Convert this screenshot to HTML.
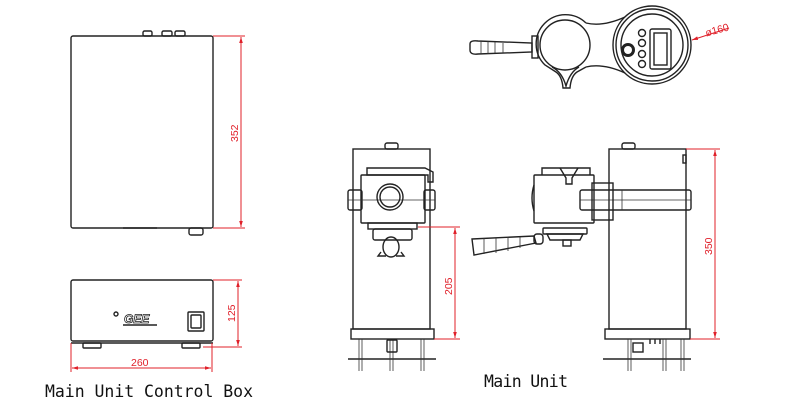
<!DOCTYPE html>
<html><head><meta charset="utf-8"><style>
html,body{margin:0;padding:0;background:#fff;width:800px;height:408px;overflow:hidden}
svg{display:block}
.k{fill:none;stroke:#222;stroke-width:1.4}
.t{fill:none;stroke:#333;stroke-width:0.8}
.r{fill:none;stroke:#e0202a;stroke-width:1}
.rt{fill:#e0202a;font-family:"Liberation Sans",sans-serif;font-size:10.5px}
.lb{fill:#111;font-family:"DejaVu Sans Mono","Liberation Mono",monospace;font-size:16.5px}
</style></head><body>
<svg width="800" height="408" viewBox="0 0 800 408">
<defs>
<marker id="a" viewBox="0 0 10 10" refX="10" refY="5" markerWidth="6" markerHeight="6" orient="auto-start-reverse"><path d="M0,2 L10,5 L0,8 z" fill="#e0202a"/></marker>
</defs>
<!-- Control box top -->
<rect class="k" x="71" y="36" width="142" height="192" rx="2"/>
<rect class="k" x="143" y="31" width="9" height="5" rx="1.5"/>
<rect class="k" x="162" y="31" width="10" height="5" rx="1.5"/>
<rect class="k" x="175" y="31" width="10" height="5" rx="1.5"/>
<rect class="k" x="189" y="228" width="14" height="7" rx="2"/>
<line class="k" x1="123" y1="228" x2="157" y2="228" stroke-width="2"/>
<line class="r" x1="213" y1="36" x2="245" y2="36"/>
<line class="r" x1="213" y1="228" x2="245" y2="228"/>
<line class="r" x1="241" y1="37" x2="241" y2="227" marker-start="url(#a)" marker-end="url(#a)"/>
<text class="rt" transform="translate(238,142) rotate(-90)">352</text>
<!-- Control box front -->
<rect class="k" x="71" y="280" width="142" height="61" rx="2"/>
<line class="k" x1="71" y1="343" x2="213" y2="343"/>
<rect class="k" x="83" y="343" width="18" height="5" rx="1"/>
<rect class="k" x="182" y="343" width="18" height="5" rx="1"/>
<circle class="k" cx="116" cy="314" r="2"/>
<text x="124" y="323" font-family="Liberation Sans,sans-serif" font-style="italic" font-weight="bold" font-size="12" fill="#fff" stroke="#222" stroke-width="0.8">GEE</text>
<line class="k" x1="123" y1="325" x2="157" y2="325"/>
<rect class="k" x="188" y="312" width="16" height="19" rx="1"/>
<rect class="k" x="191" y="315" width="10" height="13" rx="1"/>
<line class="r" x1="213" y1="280" x2="242" y2="280"/>
<line class="r" x1="203" y1="347" x2="242" y2="347"/>
<line class="r" x1="238" y1="281" x2="238" y2="346" marker-start="url(#a)" marker-end="url(#a)"/>
<text class="rt" transform="translate(235,322) rotate(-90)">125</text>
<line class="r" x1="71" y1="343" x2="71" y2="372"/>
<line class="r" x1="212" y1="343" x2="212" y2="372"/>
<line class="r" x1="72" y1="368" x2="211" y2="368" marker-start="url(#a)" marker-end="url(#a)"/>
<text class="rt" x="131" y="366">260</text>
<text class="lb" x="45" y="397" textLength="208">Main Unit Control Box</text>

<!-- Main unit front -->
<rect class="k" x="353" y="149" width="77" height="180"/>
<rect class="k" x="385" y="143" width="13" height="6" rx="2"/>
<rect class="k" x="351" y="329" width="83" height="10"/>
<line class="k" x1="348" y1="359" x2="436" y2="359"/>
<line class="t" x1="359" y1="339" x2="359" y2="371"/><line class="t" x1="362" y1="339" x2="362" y2="371"/>
<line class="t" x1="421" y1="339" x2="421" y2="371"/><line class="t" x1="424" y1="339" x2="424" y2="371"/>
<line class="t" x1="390" y1="339" x2="390" y2="371"/><line class="t" x1="393" y1="339" x2="393" y2="371"/>
<rect class="k" x="387" y="340" width="10" height="12" rx="1"/>
<path class="k" d="M367,175 L367,168 L425,168 L433,172 L433,182 L428,182 L428,175 Z"/>
<rect class="k" x="361" y="175" width="64" height="48" rx="1"/>
<rect class="k" x="348" y="190" width="14" height="20" rx="2"/>
<rect class="k" x="424" y="190" width="11" height="20" rx="2"/>
<line class="t" x1="348" y1="200" x2="435" y2="200"/>
<circle class="k" cx="390" cy="197" r="13"/>
<circle class="k" cx="390" cy="197" r="10"/>
<rect class="k" x="368" y="223" width="49" height="6"/>
<rect class="k" x="373" y="229" width="39" height="11" rx="2"/>
<ellipse class="k" cx="391" cy="247" rx="8" ry="10"/>
<path class="k" d="M381,252 L378,256 L386,256 M401,252 L404,256 L396,256"/>
<line class="r" x1="418" y1="227" x2="460" y2="227"/>
<line class="r" x1="434" y1="339" x2="460" y2="339"/>
<line class="r" x1="455" y1="228" x2="455" y2="338" marker-start="url(#a)" marker-end="url(#a)"/>
<text class="rt" transform="translate(452,295) rotate(-90)">205</text>

<!-- Main unit side -->
<rect class="k" x="609" y="149" width="77" height="180"/>
<rect class="k" x="622" y="143" width="13" height="6" rx="2"/>
<rect class="k" x="683" y="155" width="3" height="8"/>
<rect class="k" x="605" y="329" width="85" height="10"/>
<line class="k" x1="603" y1="359" x2="691" y2="359"/>
<line class="t" x1="628" y1="339" x2="628" y2="371"/><line class="t" x1="631" y1="339" x2="631" y2="371"/>
<line class="t" x1="663" y1="339" x2="663" y2="371"/><line class="t" x1="666" y1="339" x2="666" y2="371"/>
<line class="t" x1="681" y1="339" x2="681" y2="371"/><line class="t" x1="684" y1="339" x2="684" y2="371"/>
<rect class="k" x="633" y="343" width="10" height="9"/>
<path class="k" d="M650,339 v5 M655,339 v5 M660,339 v5"/>
<path class="k" d="M542,175 L542,168 L590,168 L590,175"/>
<path class="k" d="M560,168 L566,178 L566,184 L572,184 L572,178 L578,168"/>
<rect class="k" x="534" y="175" width="60" height="48" rx="1"/>
<path class="k" d="M534,185 Q530,198 534,211"/>
<rect class="k" x="580" y="190" width="111" height="20" rx="2"/>
<line class="t" x1="580" y1="200" x2="691" y2="200"/>
<line class="t" x1="622" y1="190" x2="622" y2="210"/>
<rect class="k" x="592" y="183" width="21" height="37"/>
<rect class="k" x="543" y="228" width="44" height="6" rx="1"/>
<path class="k" d="M547,234 L583,234 L580,240 L550,240 Z"/>
<rect class="k" x="563" y="240" width="8" height="6"/>
<path class="k" d="M472,239 L534,236 L536,243 L474,255 Z"/>
<path class="t" d="M484,238 v16 M496,238 v15 M508,238 v13 M520,237 v11"/>
<rect class="k" x="534" y="234" width="9" height="10" rx="3"/>
<line class="r" x1="686" y1="149" x2="720" y2="149"/>
<line class="r" x1="690" y1="339" x2="720" y2="339"/>
<line class="r" x1="715" y1="150" x2="715" y2="338" marker-start="url(#a)" marker-end="url(#a)"/>
<text class="rt" transform="translate(712,255) rotate(-90)">350</text>

<!-- Top view -->
<path class="k" d="M586,23 Q603,27 625,17 M586,67 Q603,63 625,73"/>
<path class="k" d="M586,23 A29,29 0 0 0 545,65 L556,72 Q562,76 563,88 L570,88 Q571,76 577,72 L586,67"/>
<circle class="k" cx="565" cy="45" r="25"/>
<path class="k" d="M552,67 Q562,72 566,86 Q570,72 579,67"/>
<circle class="k" cx="652" cy="45" r="39"/>
<circle class="k" cx="652" cy="45" r="36"/>
<circle class="k" cx="652" cy="45" r="31"/>
<rect class="k" x="650" y="29" width="21" height="40" rx="2"/>
<rect class="k" x="654" y="33" width="13" height="32"/>
<circle class="k" cx="642" cy="33" r="3.5"/>
<circle class="k" cx="642" cy="43" r="3.5"/>
<circle class="k" cx="642" cy="54" r="3.5"/>
<circle class="k" cx="642" cy="64" r="3.5"/>
<circle cx="628" cy="50" r="7" fill="#222"/>
<circle cx="628" cy="50" r="4" fill="#fff"/>
<rect class="k" x="532" y="36" width="6" height="22"/>
<path class="k" d="M470,44 Q470,40 478,41 L532,43 L532,52 L478,54 Q470,55 470,50 Z"/>
<path class="t" d="M481,41 v13 M488,41 v13 M495,42 v11 M503,43 v10"/>
<line class="r" x1="729" y1="28" x2="692" y2="40" marker-end="url(#a)"/>
<text class="rt" x="705" y="34" transform="rotate(-15,715,30)">ø160</text>
<text class="lb" x="484" y="387" textLength="84">Main Unit</text>
</svg>
</body></html>
